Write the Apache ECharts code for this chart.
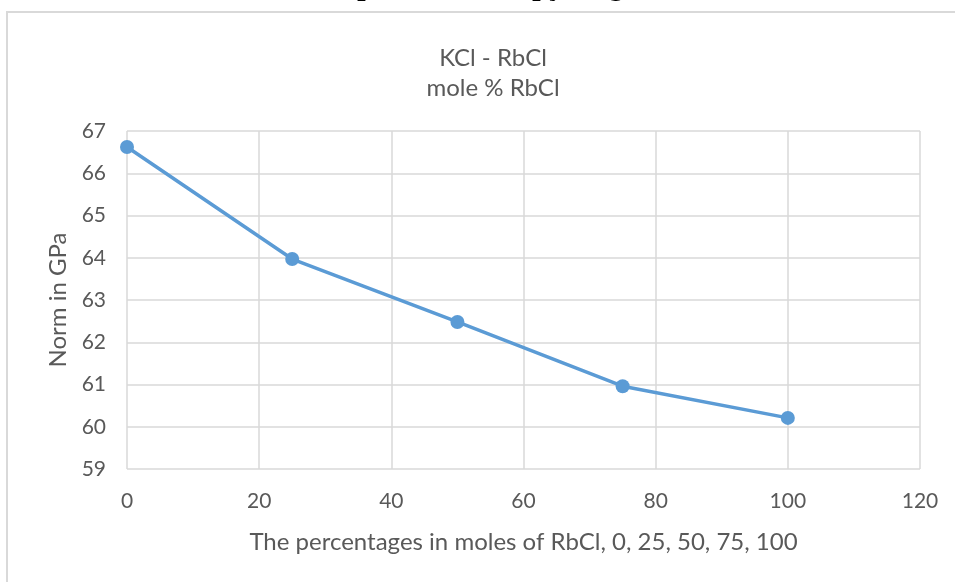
<!DOCTYPE html>
<html><head><meta charset="utf-8">
<script src="https://cdn.jsdelivr.net/npm/echarts@6/dist/echarts.min.js"></script>
<style>html,body{margin:0;padding:0;background:#fff}#c{width:955px;height:582px}</style>
</head><body><div id="c"></div>
<script>
var titleLines = ['KCl - RbCl', 'mole % RbCl'];
var xAxisName = 'The percentages in moles of RbCl, 0, 25, 50, 75, 100';
var yAxisName = 'Norm in GPa';
var xValues = [0, 25, 50, 75, 100];
var yValues = [66.62, 63.97, 62.48, 60.96, 60.21];

var FONT = 'Lato';
var chart = echarts.init(document.getElementById('c'), null, {renderer: 'canvas'});
chart.setOption({
  animation: false,
  backgroundColor: '#fff',
  title: {
    text: titleLines.join('\n'),
    left: 488, top: 38, textAlign: 'center',
    textStyle: {fontFamily: FONT, fontSize: 24, fontWeight: 'normal', color: '#595959', lineHeight: 30}
  },
  graphic: [
    {type: 'rect', shape: {x: 7, y: 12, width: 1000, height: 700}, style: {fill: 'none', stroke: '#d9d9d9', lineWidth: 2}, silent: true},
    {type: 'text', left: 357, top: -22, style: {text: 'p', font: 'bold 24px "DejaVu Serif"', fill: '#000'}},
    {type: 'text', left: 532, top: -22, style: {text: 'py', font: 'bold 24px "DejaVu Serif"', fill: '#000'}},
    {type: 'text', left: 609, top: -22, style: {text: 'g', font: 'bold 24px "DejaVu Serif"', fill: '#000'}}
  ],
  grid: {left: 127, right: 35, top: 131, bottom: 113, containLabel: false},
  xAxis: {
    type: 'value', min: 0, max: 120, interval: 20,
    name: xAxisName, nameLocation: 'middle', nameGap: 61,
    nameTextStyle: {fontFamily: FONT, fontSize: 24, color: '#595959'},
    axisLine: {show: false},
    axisTick: {show: false},
    axisLabel: {fontFamily: FONT, fontSize: 21, color: '#595959', margin: 22},
    splitLine: {show: true, lineStyle: {color: '#d9d9d9', width: 1.5}}
  },
  yAxis: {
    type: 'value', min: 59, max: 67, interval: 1,
    name: yAxisName, nameLocation: 'middle', nameGap: 57,
    nameTextStyle: {fontFamily: FONT, fontSize: 24, color: '#595959'},
    axisLine: {show: false},
    axisTick: {show: false},
    axisLabel: {fontFamily: FONT, fontSize: 21, color: '#595959', margin: 21},
    splitLine: {show: true, lineStyle: {color: '#d9d9d9', width: 1.5}}
  },
  series: [{
    type: 'line',
    data: xValues.map(function (x, i) { return [x, yValues[i]]; }),
    symbol: 'circle', symbolSize: 14,
    lineStyle: {color: '#5b9bd5', width: 3.5},
    itemStyle: {color: '#5b9bd5'},
    z: 5
  }]
});
</script></body></html>
